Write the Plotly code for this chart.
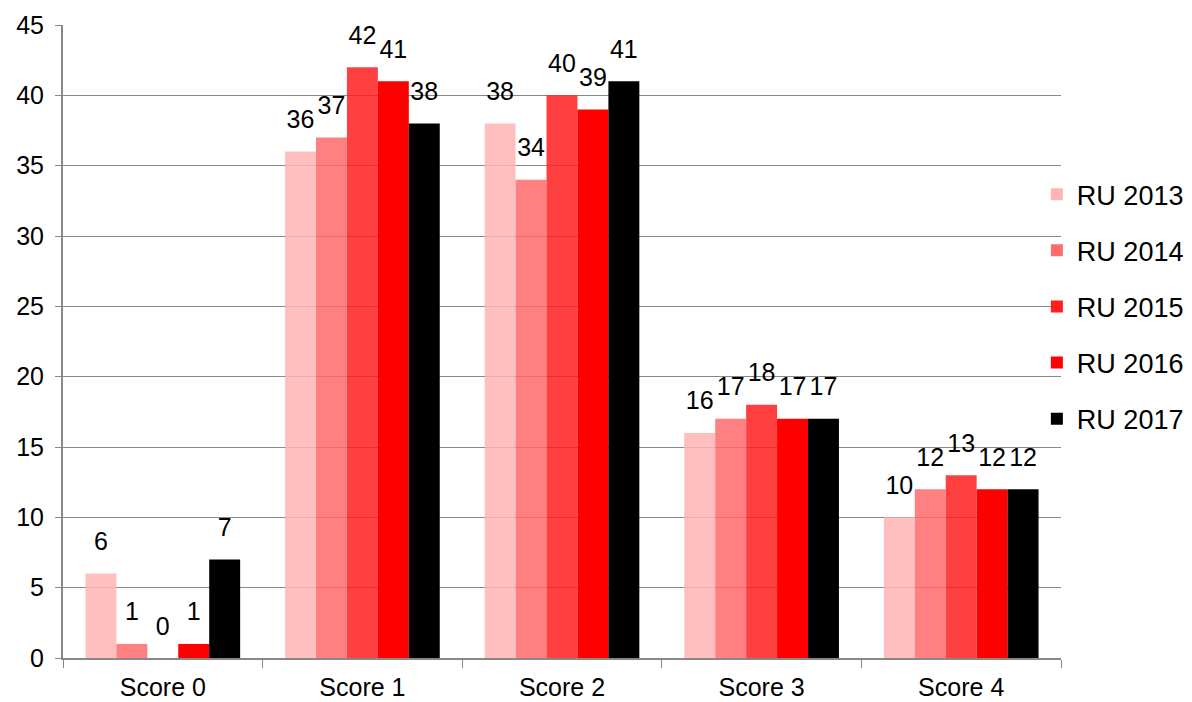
import plotly.graph_objects as go

categories = ["Score 0", "Score 1", "Score 2", "Score 3", "Score 4"]
series_names = ["RU 2013", "RU 2014", "RU 2015", "RU 2016", "RU 2017"]
values_2013 = [6, 36, 38, 16, 10]
values_2014 = [1, 37, 34, 17, 12]
values_2015 = [0, 42, 40, 18, 13]
values_2016 = [1, 41, 39, 17, 12]
values_2017 = [7, 38, 41, 17, 12]
# base colours with opacity so the gridlines show faintly through the lighter bars
colors = ["#FFB4B4", "#FF6A6A", "#FF1E1E", "#FF0000", "#000000"]
opacities = [0.85, 0.85, 0.85, 1.0, 1.0]

all_values = [values_2013, values_2014, values_2015, values_2016, values_2017]

fig = go.Figure()
for name, vals, col, op in zip(series_names, all_values, colors, opacities):
    fig.add_trace(go.Bar(
        x=categories, y=vals, name=name, legendgroup=name,
        offsetgroup=name,
        marker=dict(color=col, opacity=op, line=dict(width=0)),
    ))
# data labels, lifted a little above the bars like the original
for name, vals in zip(series_names, all_values):
    fig.add_trace(go.Scatter(
        x=categories, y=vals, mode="markers+text", offsetgroup=name,
        text=[str(v) for v in vals], textposition="top center",
        textfont=dict(family="Arial, Liberation Sans", size=25, color="black"),
        marker=dict(size=26, opacity=0), showlegend=False, hoverinfo="skip",
        cliponaxis=False,
    ))

fig.update_layout(
    width=1192, height=702,
    margin=dict(l=55, r=138, t=17, b=52),
    paper_bgcolor="white", plot_bgcolor="white",
    barmode="group", bargap=0.225, bargroupgap=0,
    scattermode="group", scattergap=0.225,
    font=dict(family="Arial, Liberation Sans", size=25, color="black"),
    showlegend=True,
    legend=dict(x=1.127, xanchor="right", y=0.555, yanchor="middle",
                bgcolor="rgba(0,0,0,0)",
                font=dict(size=27), tracegroupgap=18, itemwidth=30),
)
fig.update_yaxes(range=[0, 45], dtick=5, showgrid=True, gridcolor="#888888", gridwidth=1.3,
                 showline=True, linecolor="#888888", linewidth=2, ticks="outside",
                 ticklen=6, tickcolor="#888888", zeroline=False, automargin=False,
                 ticklabelstandoff=6, tickfont=dict(size=25))
fig.update_xaxes(showline=True, linecolor="#888888", linewidth=2, ticks="outside",
                 tickson="boundaries", ticklen=8, tickcolor="#888888", automargin=False,
                 ticklabelstandoff=6, tickfont=dict(size=25))

fig.write_html("out.html")
